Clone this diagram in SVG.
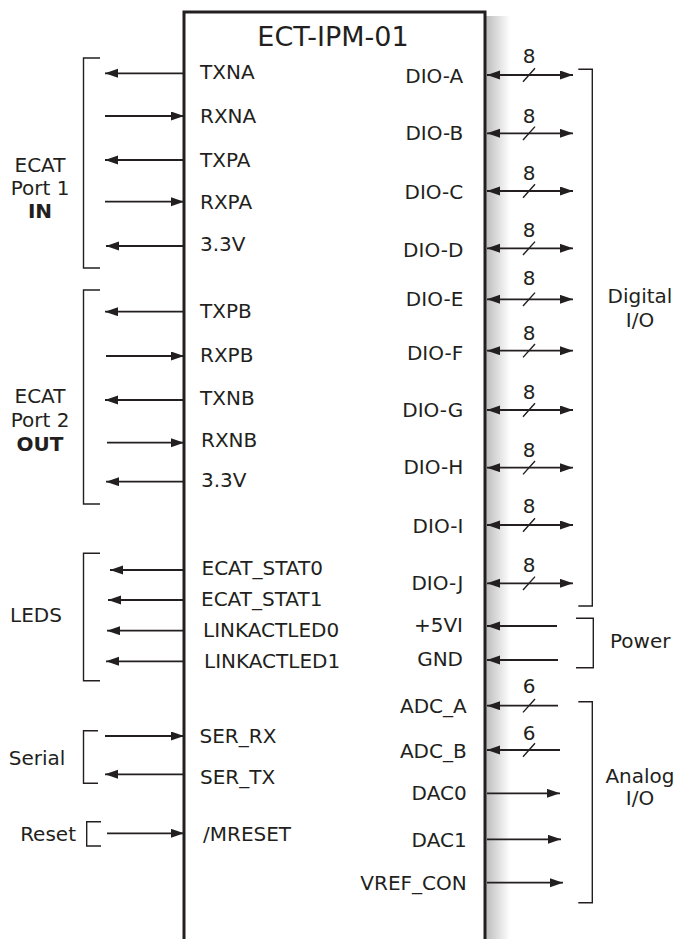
<svg xmlns="http://www.w3.org/2000/svg" width="675" height="939" viewBox="0 0 675 939">
<style>
text{font-family:"DejaVu Sans",Verdana,sans-serif;font-size:20px;fill:#231f20}
.t{font-size:27px}
.r{text-anchor:end}
.m{text-anchor:middle}
.b{font-weight:bold}
.w{stroke:#231f20;stroke-width:1.8;fill:none}
.k{stroke:#231f20;stroke-width:1.4;fill:none}
.o{marker-end:url(#ah)}
.bi{marker-start:url(#ah);marker-end:url(#ah)}
</style>
<defs>
<marker id="ah" markerUnits="userSpaceOnUse" markerWidth="14" markerHeight="10" refX="13" refY="4.5" orient="auto-start-reverse"><path d="M0,0 L13,4.5 L0,9 z" fill="#231f20"/></marker>
<linearGradient id="sh" x1="0" x2="1" y1="0" y2="0"><stop offset="0" stop-color="#bdbdbd"/><stop offset="1" stop-color="#ffffff"/></linearGradient>
</defs>
<g id="module">
<rect x="486" y="16" width="24" height="930" fill="url(#sh)"/>
<rect x="184" y="12" width="301" height="940" fill="none" stroke="#231f20" stroke-width="3"/>
<text class="t m" x="333" y="46">ECT-IPM-01</text>
</g>
<g id="connectors">
<path class="w o" d="M184,73.3 H105"/>
<path class="w o" d="M105,116 H184"/>
<path class="w o" d="M184,160 H105"/>
<path class="w o" d="M105,201.7 H184"/>
<path class="w o" d="M184,246 H106"/>
<path class="w o" d="M184,311.7 H105"/>
<path class="w o" d="M106,356 H184"/>
<path class="w o" d="M184,400 H105"/>
<path class="w o" d="M107,442.7 H184"/>
<path class="w o" d="M184,481.7 H106"/>
<path class="w o" d="M184,570 H110"/>
<path class="w o" d="M184,600 H108"/>
<path class="w o" d="M184,630.7 H107"/>
<path class="w o" d="M184,661.3 H106"/>
<path class="w o" d="M105,736 H184"/>
<path class="w o" d="M184,774.3 H105"/>
<path class="w o" d="M107,833.3 H184"/>
<path class="w bi" d="M487,75 H573"/>
<path class="w bi" d="M487,133.3 H573"/>
<path class="w bi" d="M487,191 H573"/>
<path class="w bi" d="M487,248.3 H573"/>
<path class="w bi" d="M487,299.3 H573"/>
<path class="w bi" d="M487,350.7 H573"/>
<path class="w bi" d="M487,410 H573"/>
<path class="w bi" d="M487,467.7 H573"/>
<path class="w bi" d="M487,525 H573"/>
<path class="w bi" d="M487,583.3 H573"/>
<path class="w o" d="M557,626 H487"/>
<path class="w o" d="M558,660 H487"/>
<path class="w o" d="M558,705.7 H487"/>
<path class="w o" d="M560,750 H487"/>
<path class="w o" d="M487,793.3 H560"/>
<path class="w o" d="M487,839.3 H561"/>
<path class="w o" d="M487,882.7 H563"/>
<g class="k">
<path d="M523,81.7 L535,68.3 M523,140 L535,126.6 M523,197.7 L535,184.3 M523,255 L535,241.6 M523,306 L535,292.6 M523,357.4 L535,344 M523,416.7 L535,403.3 M523,474.4 L535,461 M523,531.7 L535,518.3 M523,590 L535,576.6 M523,712.4 L535,699 M523,756.7 L535,743.3"/>
</g>
</g>
<g id="brackets" class="k">
<path d="M100,58 H83.5 V268 H100"/>
<path d="M100,290 H83.5 V504 H100"/>
<path d="M100,553.3 H83.5 V680.7 H100"/>
<path d="M98,730.7 H83.5 V783.3 H98"/>
<path d="M101,821.7 H86.7 V846 H101"/>
<path d="M578.3,69.3 H592.3 V606 H578.3"/>
<path d="M576,618.3 H593.3 V667.7 H576"/>
<path d="M578.3,701.7 H592.3 V902.7 H578.3"/>
</g>
<g id="port1">
<text class="m" x="40" y="172">ECAT</text>
<text class="m" x="40" y="195">Port 1</text>
<text class="m b" x="40" y="218">IN</text>
</g>
<g id="port2">
<text class="m" x="40" y="403.3">ECAT</text>
<text class="m" x="40" y="426.7">Port 2</text>
<text class="m b" x="40" y="451">OUT</text>
</g>
<g id="leds"><text class="m" x="36" y="621.7">LEDS</text></g>
<g id="serial"><text class="m" x="37" y="765">Serial</text></g>
<g id="reset"><text class="r" x="76" y="840.7">Reset</text></g>
<g id="digital"><text class="m" x="640" y="303.3">Digital</text><text class="m" x="640" y="326.7">I/O</text></g>
<g id="power"><text x="610" y="648.3">Power</text></g>
<g id="analog"><text class="m" x="640" y="783.3">Analog</text><text class="m" x="640" y="805">I/O</text></g>
<g id="pins-left">
<text x="200" y="79">TXNA</text>
<text x="200" y="123">RXNA</text>
<text x="200" y="167">TXPA</text>
<text x="200" y="209">RXPA</text>
<text x="200" y="251">3.3V</text>
<text x="200" y="317.7">TXPB</text>
<text x="200" y="361.7">RXPB</text>
<text x="200" y="405">TXNB</text>
<text x="201" y="446.7">RXNB</text>
<text x="201" y="486.7">3.3V</text>
<text x="201.5" y="575">ECAT_STAT0</text>
<text x="201" y="606">ECAT_STAT1</text>
<text x="203" y="637.3">LINKACTLED0</text>
<text x="204" y="668.3">LINKACTLED1</text>
<text x="199.5" y="742.7">SER_RX</text>
<text x="200" y="784">SER_TX</text>
<text x="203" y="840.7">/MRESET</text>
</g>
<g id="pins-right">
<text class="r" x="463.3" y="82.7">DIO-A</text>
<text class="r" x="463.3" y="140">DIO-B</text>
<text class="r" x="463.3" y="199">DIO-C</text>
<text class="r" x="463.3" y="256.7">DIO-D</text>
<text class="r" x="463.3" y="306">DIO-E</text>
<text class="r" x="463.3" y="360">DIO-F</text>
<text class="r" x="463.3" y="416.7">DIO-G</text>
<text class="r" x="463.3" y="474">DIO-H</text>
<text class="r" x="463.3" y="533">DIO-I</text>
<text class="r" x="463.3" y="590">DIO-J</text>
<text class="r" x="463" y="631.7">+5VI</text>
<text class="r" x="463" y="665.7">GND</text>
<text class="r" x="466.7" y="712.7">ADC_A</text>
<text class="r" x="466.7" y="758.3">ADC_B</text>
<text class="r" x="466.7" y="800">DAC0</text>
<text class="r" x="466.7" y="847.3">DAC1</text>
<text class="r" x="466.7" y="890">VREF_CON</text>
</g>
<g id="bus-widths">
<text class="m" x="529" y="63">8</text>
<text class="m" x="529" y="123.3">8</text>
<text class="m" x="529" y="180">8</text>
<text class="m" x="529" y="237.3">8</text>
<text class="m" x="529" y="285">8</text>
<text class="m" x="529" y="340">8</text>
<text class="m" x="529" y="399.3">8</text>
<text class="m" x="529" y="456.7">8</text>
<text class="m" x="529" y="513.3">8</text>
<text class="m" x="529" y="571.7">8</text>
<text class="m" x="529" y="692.7">6</text>
<text class="m" x="529" y="740">6</text>
</g>
</svg>
